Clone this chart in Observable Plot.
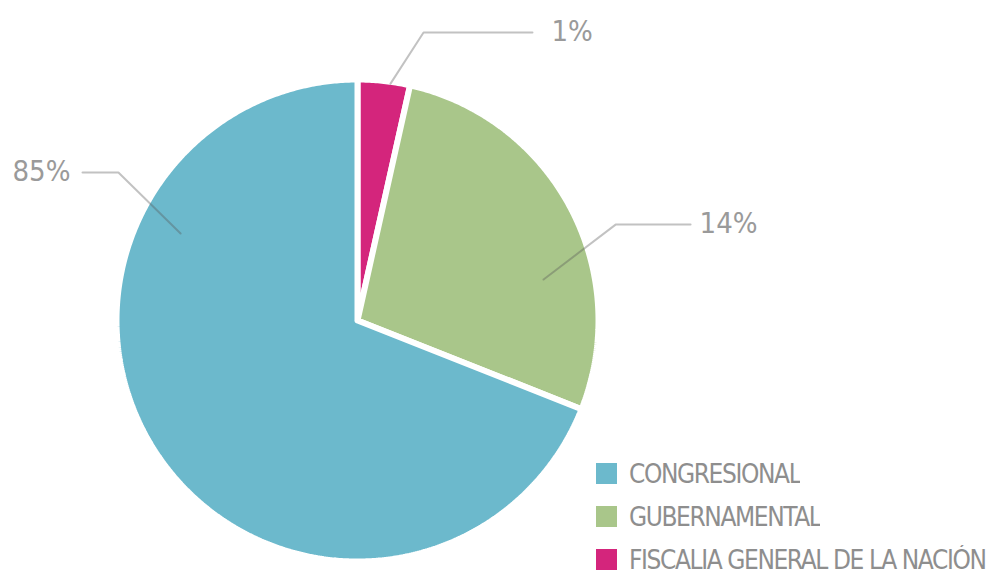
<!DOCTYPE html>
<html>
<head>
<meta charset="utf-8">
<script src="https://cdn.jsdelivr.net/npm/d3@7"></script>
<script src="https://cdn.jsdelivr.net/npm/@observablehq/plot@0.6"></script>
<style>
  html, body { margin: 0; padding: 0; background: #fff; }
  #wrap { position: relative; width: 990px; height: 576px; overflow: hidden; }
  #legend { position: absolute; left: 596px; top: 452px; }
  div.leg-swatches .leg-swatch {
    height: 43px; margin: 0; padding: 0;
    font: 26px "DejaVu Sans Condensed", "DejaVu Sans", sans-serif;
    font-stretch: condensed; letter-spacing: -1.4px;
    color: #8e8e8e; display: flex; align-items: center; white-space: nowrap;
  }
  div.leg-swatches .leg-swatch svg { margin-right: 12px !important; }
</style>
</head>
<body>
<div id="wrap"><div id="chart"></div><div id="legend"></div></div>
<script>
// ---- data ----
const categories = ["CONGRESIONAL", "GUBERNAMENTAL", "FISCALIA GENERAL DE LA NACIÓN"];
const shares = [69.0, 27.5, 3.5];          // slice sizes as drawn (percent of circle)
const labels = ["85%", "14%", "1%"];        // printed labels
const colors = ["#6cb9cc", "#a9c68a", "#d4257c"];
const drawOrder = [2, 1, 0];                // clockwise from 12 o'clock

// ---- annotation layout (unit-circle coordinates) ----
const leaderLayout = [
  {pts: [[-0.734, 0.361], [-0.992, 0.614], [-1.141, 0.614]], anchor: "end", dx: -12},
  {pts: [[0.772, 0.170], [1.071, 0.398], [1.382, 0.398]], anchor: "start", dx: 9},
  {pts: [[0.137, 0.983], [0.274, 1.195], [0.726, 1.195]], anchor: "start", dx: 19}
];

// ---- build slice polygons from shares ----
const total = d3.sum(shares);
const slicePts = [];
let start = 0;
for (const i of drawOrder) {
  const a0 = start, a1 = start + shares[i] / total * 2 * Math.PI;
  start = a1;
  slicePts.push({cat: categories[i], x: 0, y: 0});
  const n = Math.max(2, Math.ceil((a1 - a0) / (Math.PI / 360)));
  for (let k = 0; k <= n; k++) {
    const a = a0 + (a1 - a0) * k / n;
    slicePts.push({cat: categories[i], x: Math.sin(a), y: Math.cos(a)});
  }
  slicePts.push({cat: categories[i], x: 0, y: 0});
}

const leaderPts = [];
leaderLayout.forEach((L, i) => {
  L.pts.forEach(p => leaderPts.push({id: labels[i], x: p[0], y: p[1]}));
});

const labelMarks = leaderLayout.map((L, i) => {
  const e = L.pts[L.pts.length - 1];
  return Plot.text([{text: labels[i], x: e[0], y: e[1]}], {
    x: "x", y: "y", text: "text", textAnchor: L.anchor, dx: L.dx, dy: -1,
    fontSize: 29, fill: "#9a9a9a",
    fontFamily: "DejaVu Sans Condensed, DejaVu Sans, sans-serif"
  });
});

const color = {domain: categories, range: colors};

const chart = Plot.plot({
  width: 990, height: 576, margin: 0,
  x: {domain: [-1, 1], range: [116, 598], axis: null},
  y: {domain: [-1, 1], range: [561, 79], axis: null},
  color,
  style: {background: "white"},
  marks: [
    Plot.line(slicePts, {x: "x", y: "y", z: "cat", fill: "cat", stroke: "white",
      strokeWidth: 6, strokeLinejoin: "miter", curve: "linear"}),
    Plot.line(leaderPts, {x: "x", y: "y", z: "id", stroke: "#555", strokeOpacity: 0.36,
      strokeWidth: 2, curve: "linear"}),
    ...labelMarks
  ]
});
document.getElementById("chart").appendChild(chart);

const legend = Plot.legend({color, swatchSize: 21, columns: 1, className: "leg"});
document.getElementById("legend").appendChild(legend);
</script>
</body>
</html>
